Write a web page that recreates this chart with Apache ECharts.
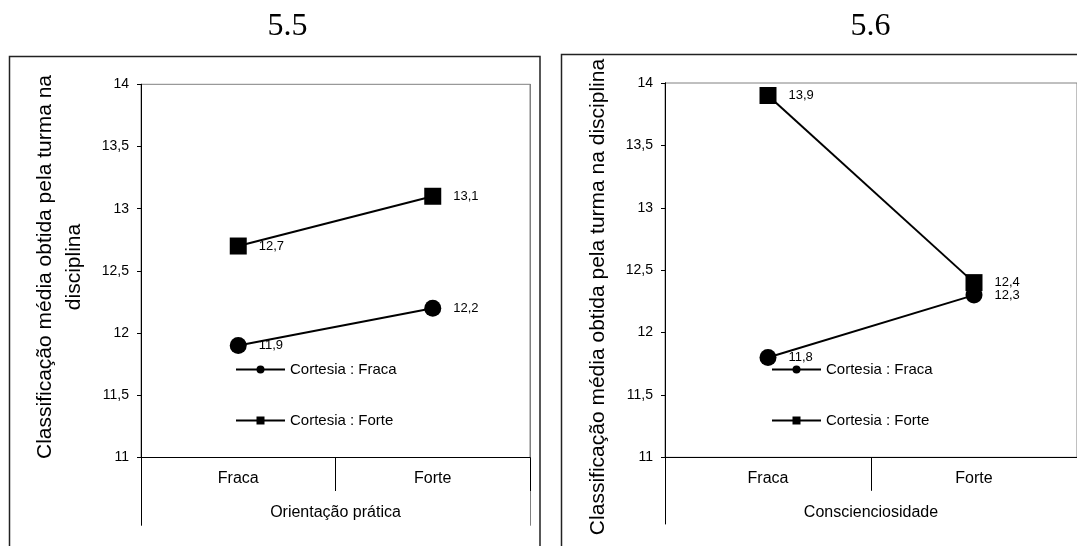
<!DOCTYPE html>
<html>
<head>
<meta charset="utf-8">
<script src="https://cdn.jsdelivr.net/npm/echarts@6/dist/echarts.min.js"></script>
<style>
html,body{margin:0;padding:0;background:#fff;}
#c{width:1077px;height:546px;}
</style>
</head>
<body>
<div id="c"></div>
<script>
// ---- data ----
const categories = ['Fraca', 'Forte'];
const panelTitles = ['5.5', '5.6'];
const xTitles = ['Orientação prática', 'Conscienciosidade'];
const seriesNames = ['Cortesia : Fraca', 'Cortesia : Forte'];
const leftFraca = [11.9, 12.2];
const leftForte = [12.7, 13.1];
const rightFraca = [11.8, 12.3];
const rightForte = [13.9, 12.4];
const yMin = 11, yMax = 14, yStep = 0.5;
const yTitleLeft = 'Classificação média obtida pela turma na\ndisciplina';
const yTitleRight = 'Classificação média obtida pela turma na disciplina';

const FONT = "'Liberation Sans', Arial, sans-serif";
const comma = v => String(v).replace('.', ',');

const chart = echarts.init(document.getElementById('c'), null, {renderer: 'canvas'});

function catAxis(grid) {
  return {
    type: 'category', gridIndex: grid, data: categories, boundaryGap: true,
    axisLine: {lineStyle: {color: '#000', width: 1}},
    axisTick: {show: true, length: 33.5, lineStyle: {color: '#000', width: 1}},
    axisLabel: {color: '#000', fontSize: 16, fontFamily: FONT, margin: 13},
    nameLocation: 'middle', nameGap: 47,
    nameTextStyle: {color: '#000', fontSize: 16, fontFamily: FONT}
  };
}
function valAxis(grid) {
  return {
    type: 'value', gridIndex: grid, min: yMin, max: yMax, interval: yStep,
    axisLine: {show: true, lineStyle: {color: '#000', width: 1}},
    axisTick: {show: true, length: 4, lineStyle: {color: '#000'}},
    splitLine: {show: false},
    axisLabel: {color: '#000', fontSize: 14, fontFamily: FONT, margin: 12, formatter: comma}
  };
}
function extX(grid) {
  return {type: 'value', gridIndex: grid, min: 0, max: 1, show: false};
}
function extY(grid, pos, color) {
  return {
    type: 'value', gridIndex: grid, min: 0, max: 1, position: pos,
    axisLine: {show: true, onZero: false, lineStyle: {color: color, width: 1}},
    axisTick: {show: false}, axisLabel: {show: false}, splitLine: {show: false}
  };
}
function lineSeries(name, data, xi, yi, symbol) {
  return {
    type: 'line', name: name, data: data, xAxisIndex: xi, yAxisIndex: yi,
    symbol: symbol, symbolSize: 17, showSymbol: true,
    lineStyle: {color: '#000', width: 2},
    itemStyle: {color: '#000'},
    label: {show: true, position: 'right', distance: 12, color: '#000',
            fontSize: 13, fontFamily: FONT, formatter: p => comma(p.value)},
    animation: false, z: 3
  };
}

const xA0 = catAxis(0); xA0.name = xTitles[0];
const xA2 = catAxis(2); xA2.name = xTitles[1];

const legendBase = {
  orient: 'horizontal', padding: 0, itemWidth: 49, itemHeight: 10, itemGap: 5,
  textStyle: {color: '#000', fontSize: 15, fontFamily: FONT},
  selectedMode: false
};

const option = {
  backgroundColor: '#fff',
  animation: false,
  title: [
    {text: panelTitles[0], left: 287.5, top: 11, textAlign: 'center', padding: 0,
     textStyle: {fontFamily: "'Liberation Serif', 'Times New Roman', serif", fontSize: 32, fontWeight: 'normal', color: '#000'}},
    {text: panelTitles[1], left: 870.5, top: 11, textAlign: 'center', padding: 0,
     textStyle: {fontFamily: "'Liberation Serif', 'Times New Roman', serif", fontSize: 32, fontWeight: 'normal', color: '#000'}}
  ],
  grid: [
    {left: 141, top: 84.3, width: 389, height: 373.2, show: true, borderColor: '#808080', borderWidth: 1, backgroundColor: 'transparent'},
    {left: 141, top: 84.3, width: 389, height: 441, show: false},
    {left: 665, top: 83, width: 419, height: 374.3, show: true, borderColor: '#808080', borderWidth: 1, backgroundColor: 'transparent'},
    {left: 665, top: 83, width: 419, height: 441, show: false}
  ],
  xAxis: [xA0, extX(1), xA2, extX(3)],
  yAxis: [
    valAxis(0), extY(1, 'left', '#000'), extY(1, 'right', '#808080'),
    valAxis(2), extY(3, 'left', '#000'), extY(3, 'right', '#808080')
  ],
  legend: [
    Object.assign({}, legendBase, {data: [seriesNames[0]], left: 235, top: 362}),
    Object.assign({}, legendBase, {data: [seriesNames[1]], left: 235, top: 413}),
    Object.assign({}, legendBase, {data: [seriesNames[0]], left: 771, top: 362}),
    Object.assign({}, legendBase, {data: [seriesNames[1]], left: 771, top: 413})
  ],
  series: [
    lineSeries(seriesNames[0], leftFraca, 0, 0, 'circle'),
    lineSeries(seriesNames[1], leftForte, 0, 0, 'rect'),
    lineSeries(seriesNames[0], rightFraca, 2, 3, 'circle'),
    lineSeries(seriesNames[1], rightForte, 2, 3, 'rect')
  ],
  graphic: [
    {type: 'rect', shape: {x: 9.5, y: 56.5, width: 530.5, height: 520}, style: {fill: 'none', stroke: '#222', lineWidth: 1.5}, silent: true, z: 0},
    {type: 'rect', shape: {x: 561.5, y: 54.5, width: 560, height: 520}, style: {fill: 'none', stroke: '#222', lineWidth: 1.5}, silent: true, z: 0},
    {type: 'text', x: 59.4, y: 267, rotation: Math.PI / 2, silent: true,
     style: {text: yTitleLeft, fill: '#000', font: "21px " + FONT, align: 'center', verticalAlign: 'middle', lineHeight: 29}},
    {type: 'text', x: 598.2, y: 297, rotation: Math.PI / 2, silent: true,
     style: {text: yTitleRight, fill: '#000', font: "21px " + FONT, align: 'center', verticalAlign: 'middle'}}
  ]
};
chart.setOption(option);
</script>
</body>
</html>
